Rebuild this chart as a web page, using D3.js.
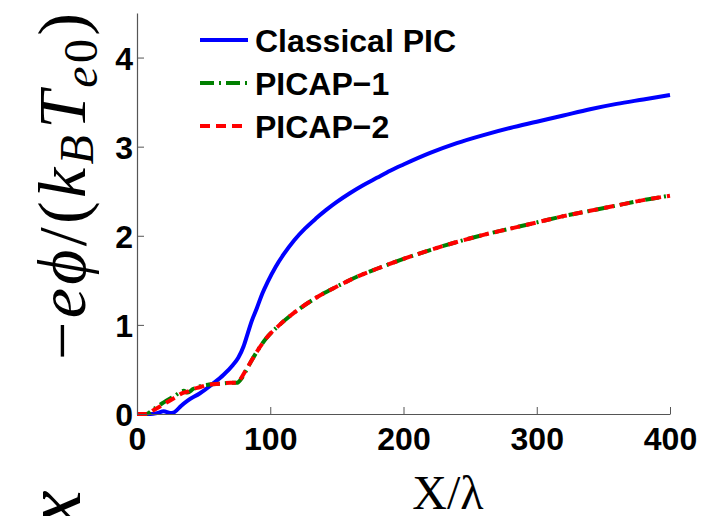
<!DOCTYPE html>
<html>
<head>
<meta charset="utf-8">
<script src="https://cdn.jsdelivr.net/npm/d3@7"></script>
<style>
  body { margin: 0; background: #fff; }
  svg { display: block; }
</style>
</head>
<body>
<svg id="chart" width="702" height="516"></svg>
<script>
// potential profiles along X/lambda
const xTicks = [0, 100, 200, 300, 400];
const yTicks = [0, 1, 2, 3, 4];

const classicalX = [0, 10, 15, 20, 25, 28, 33, 38, 47, 57, 65, 72, 76, 80, 83, 86, 90, 94, 98, 104, 110, 118, 126, 134, 142, 150, 160, 170, 180, 190, 200, 220, 240, 260, 280, 300, 320, 340, 360, 380, 400];
const classicalY = [0, 0, 0.01, 0.03, 0.01, 0.02, 0.09, 0.15, 0.23, 0.34, 0.44, 0.55, 0.63, 0.76, 0.9, 1.04, 1.19, 1.35, 1.48, 1.65, 1.79, 1.95, 2.08, 2.19, 2.29, 2.38, 2.48, 2.57, 2.65, 2.73, 2.8, 2.93, 3.04, 3.13, 3.21, 3.28, 3.35, 3.42, 3.48, 3.53, 3.58];

const picapX = [0, 7, 12, 19, 28, 35, 38, 42, 47, 54, 62, 70, 75, 78, 82, 86, 90, 97, 107, 120, 135, 150, 165, 180, 200, 220, 240, 260, 280, 300, 320, 340, 360, 380, 400];
const picap1Y = [0, 0, 0.05, 0.12, 0.2, 0.26, 0.24, 0.28, 0.31, 0.33, 0.34, 0.35, 0.35, 0.39, 0.49, 0.6, 0.7, 0.85, 1.0, 1.16, 1.31, 1.43, 1.54, 1.63, 1.74, 1.84, 1.93, 2.01, 2.08, 2.15, 2.22, 2.28, 2.34, 2.4, 2.45];
const picap2Y = [0, 0, 0.04, 0.1, 0.18, 0.24, 0.25, 0.28, 0.3, 0.33, 0.34, 0.35, 0.35, 0.4, 0.5, 0.6, 0.7, 0.85, 1.0, 1.16, 1.31, 1.43, 1.54, 1.63, 1.74, 1.84, 1.93, 2.01, 2.08, 2.15, 2.22, 2.28, 2.34, 2.4, 2.45];

const seriesNames = ['Classical PIC', 'PICAP\u22121', 'PICAP\u22122'];
const seriesColors = ['#0000ff', '#008000', '#ff0000'];
const seriesDash = [null, '14,5,2,5', '10,6'];

const svg = d3.select('#chart');
const plotLeft = 137, plotRight = 670, plotTop = 13, plotBottom = 414;

const x = d3.scaleLinear().domain([0, 400]).range([plotLeft, plotRight]);
const y = d3.scaleLinear().domain([0, 4.5]).range([plotBottom, plotTop]);

const series = [
  classicalX.map((v, i) => [v, classicalY[i]]),
  picapX.map((v, i) => [v, picap1Y[i]]),
  picapX.map((v, i) => [v, picap2Y[i]])
];

const line = d3.line()
  .x(d => x(d[0]))
  .y(d => y(d[1]))
  .curve(d3.curveMonotoneX);

svg.selectAll('path.series')
  .data(series)
  .enter().append('path')
    .attr('class', 'series')
    .attr('d', line)
    .attr('fill', 'none')
    .attr('stroke', (d, i) => seriesColors[i])
    .attr('stroke-width', 4)
    .attr('stroke-dasharray', (d, i) => seriesDash[i]);

// axes: ticks point inward, no box
const xAxis = svg.append('g')
  .attr('transform', `translate(0,${plotBottom})`)
  .call(d3.axisBottom(x).tickValues(xTicks).tickSizeInner(-7).tickSizeOuter(0).tickPadding(13));
const yAxis = svg.append('g')
  .attr('transform', `translate(${plotLeft},0)`)
  .call(d3.axisLeft(y).tickValues(yTicks).tickFormat(d3.format('d')).tickSizeInner(-7).tickSizeOuter(0).tickPadding(4));

[xAxis, yAxis].forEach(g => {
  g.select('.domain').attr('stroke', '#555').attr('stroke-width', 1.2);
  g.selectAll('.tick line').attr('stroke', '#555');
  g.selectAll('.tick text')
    .attr('fill', '#000')
    .style('font-family', '"Liberation Sans", Arial, sans-serif')
    .style('font-weight', 'bold')
    .style('font-size', '32px');
});
xAxis.selectAll('.tick text').attr('dy', '0.71em');
yAxis.selectAll('.tick text').attr('dy', '0.36em');

// legend
const legend = svg.append('g');
seriesNames.forEach((name, i) => {
  const ly = 40 + i * 43;
  legend.append('line')
    .attr('x1', 200).attr('x2', 248)
    .attr('y1', ly).attr('y2', ly)
    .attr('stroke', seriesColors[i])
    .attr('stroke-width', 4)
    .attr('stroke-dasharray', seriesDash[i]);
  legend.append('text')
    .attr('x', 255).attr('y', ly + 12)
    .style('font-family', '"Liberation Sans", Arial, sans-serif')
    .style('font-weight', 'bold')
    .style('font-size', '32px')
    .text(name);
});

// axis titles
const serif = '"Liberation Serif", "DejaVu Serif", serif';
const yTitle = svg.append('text')
  .attr('transform', 'translate(85,360) rotate(-90)')
  .attr('text-anchor', 'start')
  .attr('textLength', 347)
  .attr('lengthAdjust', 'spacing')
  .style('font-family', serif)
  .style('font-size', '68px');
yTitle.append('tspan').text('\u2212');
yTitle.append('tspan').style('font-style', 'italic').text('e\u03d5');
yTitle.append('tspan').text('/(');
yTitle.append('tspan').style('font-style', 'italic').text('k');
yTitle.append('tspan').style('font-style', 'italic').style('font-size', '48px').attr('dy', 8).text('B');
yTitle.append('tspan').style('font-style', 'italic').attr('dy', -8).attr('dx', 3).text('T');
yTitle.append('tspan').style('font-style', 'italic').style('font-size', '48px').attr('dy', 12).text('e');
yTitle.append('tspan').style('font-size', '48px').text('0');
yTitle.append('tspan').attr('dy', -12).text(')');

svg.append('text')
  .attr('x', 448).attr('y', 509)
  .attr('text-anchor', 'middle')
  .style('font-family', serif)
  .style('font-size', '48px')
  .text('X/\u03bb');

// start of the neighbouring panel's label, clipped by the page edge
svg.append('text')
  .attr('transform', 'translate(80,526) rotate(-90)')
  .attr('text-anchor', 'start')
  .style('font-family', serif)
  .style('font-style', 'italic')
  .style('font-size', '80px')
  .text('x');
</script>
</body>
</html>
